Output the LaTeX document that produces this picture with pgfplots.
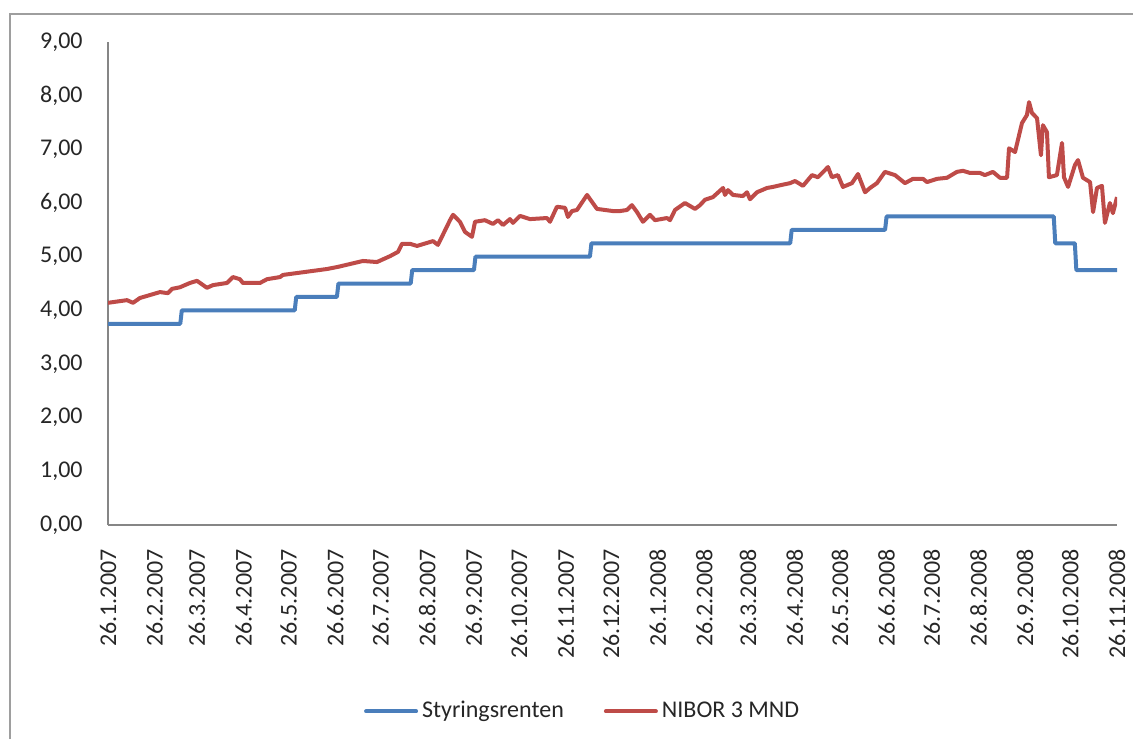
\documentclass[border=0pt]{standalone}
\usepackage{pgfplots}
\pgfplotsset{compat=1.18}
\usepackage{fontspec}
\setmainfont{Carlito}
\definecolor{sblue}{RGB}{74,126,187}
\definecolor{sred}{RGB}{190,75,72}
\definecolor{axgray}{RGB}{134,134,134}
\begin{document}
\fontsize{12pt}{14pt}\selectfont
\begin{tikzpicture}
\path[use as bounding box] (0pt,0pt) rectangle (566.5pt,369.5pt);
\draw[axgray!80, line width=0.75pt] (5pt,0pt) -- (5pt,362.5pt) -- (566.5pt,362.5pt);
\begin{axis}[
  at={(54pt,107pt)}, anchor=south west,
  scale only axis, width=504.5pt, height=241.5pt,
  xmin=0, xmax=670, ymin=0, ymax=9,
  axis x line*=bottom, axis y line*=left,
  axis line style={draw=axgray, line width=0.6pt, -},
  major tick length=0pt,
  ytick={0,1,...,9},
  xtick={0,31,59,90,120,151,181,212,243,273,304,334,365,396,425,456,486,517,547,578,609,639,670},
  xticklabels={26.1.2007,26.2.2007,26.3.2007,26.4.2007,26.5.2007,26.6.2007,26.7.2007,26.8.2007,26.9.2007,26.10.2007,26.11.2007,26.12.2007,26.1.2008,26.2.2008,26.3.2008,26.4.2008,26.5.2008,26.6.2008,26.7.2008,26.8.2008,26.9.2008,26.10.2008,26.11.2008},
  xticklabel style={rotate=90, anchor=east, inner sep=0pt, font=\fontsize{12pt}{14pt}\selectfont, text=black!85},
  xticklabel shift=12pt,
  yticklabel style={anchor=east, inner sep=0pt, font=\fontsize{12pt}{14pt}\selectfont, text=black!85,
    /pgf/number format/.cd, fixed, fixed zerofill, precision=2, use comma, assume math mode=true},
  yticklabel shift=12.5pt,
  legend style={at={(rel axis cs:0.4714,-0.386)}, anchor=center, draw=none, fill=none,
    legend columns=2, font=\fontsize{12pt}{14pt}\selectfont, text=black!85,
    /tikz/every even column/.append style={column sep=18pt}},
  legend image code/.code={\draw[#1, line cap=round] (0pt,0pt) -- (25pt,0pt);},
]
\addplot[sblue, line width=2pt, line join=round] coordinates {
(0,3.75)(48,3.75)(49,4.00)(124,4.00)(125,4.25)(152,4.25)(153,4.50)(201,4.50)(202,4.75)(243,4.75)(244,5.00)(320,5.00)(321,5.25)(453,5.25)(454,5.50)(516,5.50)(517,5.75)(628,5.75)(629,5.25)(642,5.25)(643,4.75)(670,4.75)
};
\addlegendentry{Styringsrenten}
\addplot[sred, line width=2pt, line join=round] coordinates {
(0,4.14)(12.6,4.19)(16.6,4.14)(21.2,4.23)(34.5,4.34)(39.8,4.32)(42.5,4.40)(47.8,4.43)(54.4,4.51)(59.1,4.55)(65.7,4.42)(69.7,4.47)(79.0,4.51)(83.0,4.62)(87.6,4.58)(89.6,4.51)(100.9,4.51)(105.6,4.58)(114.2,4.62)(116.2,4.66)(129.5,4.71)(145.4,4.77)(152.7,4.81)(169.3,4.92)(178.6,4.90)(187.3,5.01)(192.6,5.09)(195.2,5.24)(200.5,5.24)(205.2,5.20)(215.8,5.29)(219.1,5.22)(227.1,5.68)(229.1,5.78)(233.7,5.65)(237.1,5.46)(241.7,5.37)(243.7,5.65)(250.3,5.68)(255.6,5.61)(259.0,5.68)(262.3,5.59)(266.9,5.70)(268.9,5.63)(273.6,5.76)(280.2,5.70)(291.5,5.72)(293.5,5.65)(298.1,5.93)(303.5,5.91)(305.4,5.74)(308.1,5.85)(311.4,5.87)(318.1,6.15)(321.4,6.02)(324.7,5.89)(335.3,5.85)(340.0,5.85)(344.6,5.87)(347.9,5.96)(351.3,5.83)(355.2,5.65)(359.9,5.78)(363.2,5.68)(371.2,5.72)(373.2,5.68)(376.5,5.87)(383.1,6.00)(389.8,5.89)(393.1,5.96)(396.4,6.06)(401.7,6.11)(408.4,6.28)(409.7,6.15)(411.7,6.24)(415.0,6.15)(421.6,6.13)(424.3,6.20)(426.3,6.07)(430.9,6.20)(437.6,6.28)(441.6,6.30)(446.2,6.33)(452.9,6.37)(456.2,6.41)(461.5,6.32)(467.5,6.52)(471.4,6.48)(478.1,6.67)(480.7,6.48)(484.7,6.52)(488.0,6.30)(494.0,6.37)(498.0,6.54)(502.7,6.20)(506.0,6.28)(510.6,6.37)(515.9,6.58)(522.6,6.52)(529.2,6.37)(534.5,6.45)(541.2,6.45)(543.8,6.39)(550.5,6.45)(557.1,6.47)(563.7,6.58)(567.7,6.60)(572.4,6.56)(579.0,6.56)(582.3,6.52)(587.6,6.58)(592.3,6.47)(597.0,6.47)(598.3,7.02)(602.3,6.95)(606.9,7.49)(610.2,7.64)(611.6,7.88)(613.5,7.68)(616.9,7.58)(619.5,6.89)(620.8,7.45)(623.5,7.32)(624.8,6.48)(630.1,6.52)(633.5,7.12)(634.8,6.48)(637.5,6.30)(642.1,6.71)(644.1,6.80)(647.4,6.47)(652.1,6.39)(654.1,5.83)(656.7,6.28)(660.0,6.32)(662.0,5.63)(665.3,6.00)(667.3,5.81)(670.0,6.11)
};
\addlegendentry{NIBOR 3 MND}
\end{axis}
\end{tikzpicture}
\end{document}
